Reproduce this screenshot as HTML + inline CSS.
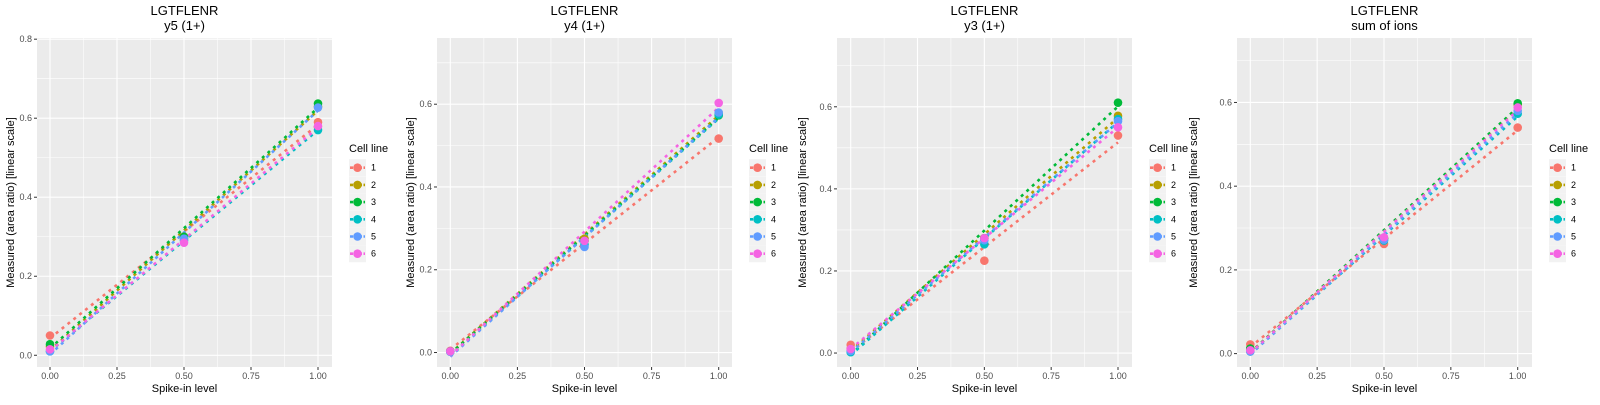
<!DOCTYPE html>
<html><head><meta charset="utf-8"><style>
body{margin:0;background:#fff;}
svg text{font-family:"Liberation Sans",Arial,sans-serif;}
</style></head><body>
<svg id="chart" width="1600" height="400" xmlns="http://www.w3.org/2000/svg"></svg>
<script>
const cellLines = ["1","2","3","4","5","6"];
const colors = ["#F8766D","#B79F00","#00BA38","#00BFC4","#619CFF","#F564E3"];
const spikeLevels = [0, 0.5, 1];
const panelTitles = ["y5 (1+)","y4 (1+)","y3 (1+)","sum of ions"];
const xTicks = [0,0.25,0.5,0.75,1];
const xTickLabels = ["0.00","0.25","0.50","0.75","1.00"];
const yTicksP1 = [0,0.2,0.4,0.6,0.8];
const yTicksOther = [0,0.2,0.4,0.6];
// values[cell][level]
const valuesY5 = [[0.05,0.30,0.59],[0.022,0.295,0.63],[0.028,0.30,0.637],[0.01,0.29,0.57],[0.01,0.295,0.627],[0.015,0.285,0.58]];
const valuesY4 = [[0.004,0.27,0.517],[0.003,0.275,0.578],[0.003,0.27,0.573],[0.002,0.26,0.575],[0.002,0.255,0.58],[0.003,0.27,0.603]];
const valuesY3 = [[0.02,0.225,0.53],[0.01,0.28,0.578],[0.005,0.28,0.61],[0.002,0.265,0.57],[0.005,0.275,0.565],[0.01,0.28,0.55]];
const valuesSum = [[0.022,0.262,0.54],[0.012,0.275,0.595],[0.012,0.275,0.598],[0.005,0.27,0.573],[0.005,0.272,0.58],[0.008,0.278,0.588]];
const allValues = [valuesY5,valuesY4,valuesY3,valuesSum];

const NS="http://www.w3.org/2000/svg";
const svg=document.getElementById('chart');
function mk(tag,attrs,parent){const e=document.createElementNS(NS,tag);for(const k in attrs)e.setAttribute(k,attrs[k]);(parent||svg).appendChild(e);return e;}

const layouts=[
 {left:37,right:332,top:38,bottom:367,x0:50,x1:318,ymin:-0.0297,ymax:0.803,yt:yTicksP1,ytitle:10},
 {left:437,right:732,top:38,bottom:367,x0:450.3,x1:718.7,ymin:-0.035,ymax:0.760,yt:yTicksOther,ytitle:410},
 {left:837,right:1132,top:38,bottom:367,x0:850.7,x1:1118,ymin:-0.034,ymax:0.7676,yt:yTicksOther,ytitle:802},
 {left:1237,right:1532,top:38,bottom:367,x0:1250.3,x1:1517.7,ymin:-0.032,ymax:0.754,yt:yTicksOther,ytitle:1193}
];

layouts.forEach((L,pi)=>{
  const g=mk('g',{});
  
  
  const X=v=>L.x0+(L.x1-L.x0)*v;
  const Y=v=>L.bottom-(v-L.ymin)/(L.ymax-L.ymin)*(L.bottom-L.top);
  const bg=mk('rect',{x:L.left,y:L.top,width:L.right-L.left,height:L.bottom-L.top,fill:'#EBEBEB'},g);
  
  
  // minor grid
  for(let i=0;i<xTicks.length-1;i++){const m=(xTicks[i]+xTicks[i+1])/2;mk('line',{x1:X(m),x2:X(m),y1:L.top,y2:L.bottom,stroke:'#fff','stroke-width':0.55},g);}
  for(let i=0;i<L.yt.length;i++){const m=L.yt[i]+0.1; if(Y(m)>L.top) mk('line',{x1:L.left,x2:L.right,y1:Y(m),y2:Y(m),stroke:'#fff','stroke-width':0.55},g);}
  // major grid + ticks
  xTicks.forEach((t,i)=>{
    mk('line',{x1:X(t),x2:X(t),y1:L.top,y2:L.bottom,stroke:'#fff','stroke-width':1.1},g);
    mk('line',{x1:X(t),x2:X(t),y1:L.bottom,y2:L.bottom+3,stroke:'#333','stroke-width':1},g);
    const tx=mk('text',{x:X(t),y:L.bottom+12,'font-size':9,fill:'#4D4D4D','text-anchor':'middle'},g);
    tx.textContent=xTickLabels[i];
    
    
  });
  L.yt.forEach(t=>{
    mk('line',{x1:L.left,x2:L.right,y1:Y(t),y2:Y(t),stroke:'#fff','stroke-width':1.1},g);
    mk('line',{x1:L.left-3,x2:L.left,y1:Y(t),y2:Y(t),stroke:'#333','stroke-width':1},g);
    const tx=mk('text',{x:L.left-5,y:Y(t)+3,'font-size':9,fill:'#4D4D4D','text-anchor':'end'},g);
    tx.textContent=t.toFixed(1);
    
    
  });
  // series
  const vals=allValues[pi];
  vals.forEach((s,ci)=>{
    const n=spikeLevels.length;let mx=0,my=0;
    for(let k=0;k<n;k++){mx+=spikeLevels[k];my+=s[k];}mx/=n;my/=n;
    let sxy=0,sxx=0;for(let k=0;k<n;k++){sxy+=(spikeLevels[k]-mx)*(s[k]-my);sxx+=(spikeLevels[k]-mx)**2;}
    const b=sxy/sxx,a=my-b*mx;
    const ln=mk('line',{x1:X(0),y1:Y(a),x2:X(1),y2:Y(a+b),stroke:colors[ci],'stroke-width':2.6,'stroke-dasharray':'3 4.5'},g);
    
    
  });
  vals.forEach((s,ci)=>{
    s.forEach((v,k)=>{
      const c=mk('circle',{cx:X(spikeLevels[k]),cy:Y(v),r:4.3,fill:colors[ci]},g);
      
      
    });
  });
  const cx=(L.left+L.right)/2;
  const t1=mk('text',{x:cx,y:15,'font-size':13,fill:'#000','text-anchor':'middle'},g);t1.textContent='LGTFLENR';
  
  
  const t2=mk('text',{x:cx,y:30,'font-size':13,fill:'#000','text-anchor':'middle'},g);t2.textContent=panelTitles[pi];
  
  
  const xt=mk('text',{x:cx,y:392,'font-size':11,fill:'#000','text-anchor':'middle'},g);xt.textContent='Spike-in level';
  
  
  const yc=(L.top+L.bottom)/2;
  const yt=mk('text',{x:L.ytitle,y:yc,'font-size':11,fill:'#000','text-anchor':'middle',transform:`rotate(-90 ${L.ytitle} ${yc})`,dy:4},g);
  yt.textContent='Measured (area ratio) [linear scale]';
  
  
  // legend
  const lg=mk('g',{},g);
  
  
  const lt=mk('text',{x:L.right+17,y:152,'font-size':11,fill:'#000'},lg);lt.textContent='Cell line';
  cellLines.forEach((c,ci)=>{
    const ky=167.7+ci*17.2;
    const e=mk('g',{},lg);
    
    
    mk('rect',{x:L.right+17,y:ky-8.5,width:17,height:17,fill:'#F2F2F2'},e);
    mk('line',{x1:L.right+18,x2:L.right+33,y1:ky,y2:ky,stroke:colors[ci],'stroke-width':2.6,'stroke-dasharray':'3 1.5'},e);
    mk('circle',{cx:L.right+25.5,cy:ky,r:4.3,fill:colors[ci]},e);
    const tx=mk('text',{x:L.right+39,y:ky+3,'font-size':9,fill:'#000'},e);tx.textContent=c;
  });
});
</script>
</body></html>
